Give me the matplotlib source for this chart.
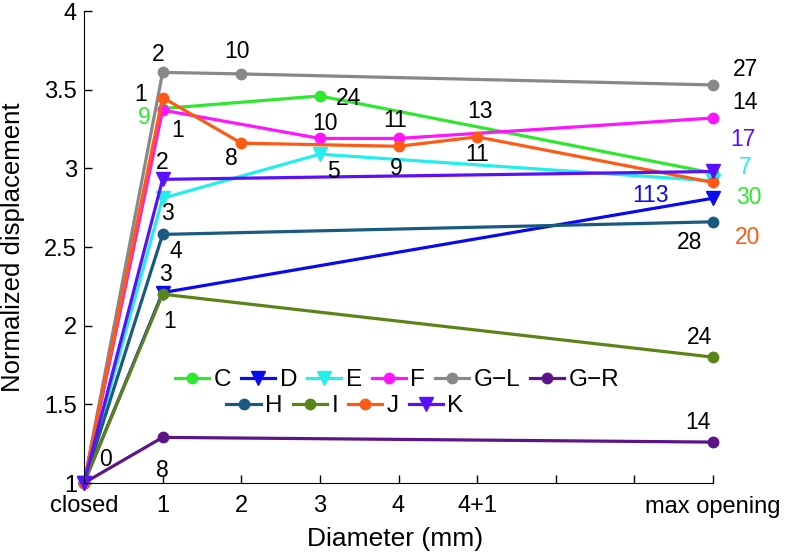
import matplotlib
matplotlib.use("Agg")
import matplotlib.pyplot as plt

plt.rcParams['font.family'] = ['Liberation Sans', 'DejaVu Sans']

# x positions: 0 = closed, 1..5 = 1,2,3,4,4+1, 8 = max opening
xticklabels = ['closed', '1', '2', '3', '4', '4+1', '', '', 'max opening']

names = ['C', 'D', 'E', 'F', 'G\u2212L', 'G\u2212R', 'H', 'I', 'J', 'K']
colors = ['#2ee82e', '#0a0aee', '#22eeee', '#ff14ff', '#888888',
          '#5c1488', '#1a5a80', '#5a8418', '#ff5a14', '#5a10ff']
markers = ['o', 'v', 'v', 'o', 'o', 'o', 'o', 'o', 'o', 'v']

x_C = [0, 1, 3, 8]
y_C = [1, 3.38, 3.46, 2.97]
x_D = [0, 1, 8]
y_D = [1, 2.21, 2.81]
x_E = [0, 1, 3, 8]
y_E = [1, 2.81, 3.09, 2.92]
x_F = [0, 1, 3, 4, 8]
y_F = [1, 3.37, 3.19, 3.19, 3.32]
x_GL = [0, 1, 2, 8]
y_GL = [1, 3.61, 3.60, 3.53]
x_GR = [0, 1, 8]
y_GR = [1, 1.29, 1.26]
x_H = [0, 1, 8]
y_H = [1, 2.58, 2.66]
x_I = [0, 1, 8]
y_I = [1, 2.20, 1.80]
x_J = [0, 1, 2, 4, 5, 8]
y_J = [1, 3.45, 3.16, 3.14, 3.20, 2.91]
x_K = [0, 1, 8]
y_K = [1, 2.93, 2.98]

xs = [x_C, x_D, x_E, x_F, x_GL, x_GR, x_H, x_I, x_J, x_K]
ys = [y_C, y_D, y_E, y_F, y_GL, y_GR, y_H, y_I, y_J, y_K]

# point labels: (series index, point index, text, coloured?)
point_labels = [
    (0, 1, '9', True), (0, 2, '24', False), (0, 3, '30', True),
    (1, 1, '3', False), (1, 2, '113', True),
    (2, 1, '3', False), (2, 2, '5', False), (2, 3, '7', True),
    (3, 1, '1', False), (3, 2, '10', False), (3, 3, '11', False), (3, 4, '14', False),
    (4, 1, '2', False), (4, 2, '10', False), (4, 3, '27', False),
    (5, 0, '0', False), (5, 1, '8', False), (5, 2, '14', False),
    (6, 1, '4', False), (6, 2, '28', False),
    (7, 1, '1', False), (7, 2, '24', False),
    (8, 1, '1', False), (8, 2, '8', False), (8, 3, '9', False),
    (8, 4, '13', False), (8, 4, '11', False), (8, 5, '20', True),
    (9, 1, '2', False), (9, 2, '17', True),
]
# pixel offsets of each label from its point (same order)
label_offsets = [
    (-18, -9), (29, -3), (36, -24),
    (3, 18), (-63, 3),
    (5, -15), (14, -17), (32, 13),
    (15, -20), (5, 15), (-3, 18), (32, 15),
    (-4, 18), (-4, 22), (32, 15),
    (22, 23), (0, -33), (-15, 20),
    (13, -17), (-23, -21),
    (7, -27), (-13, 20),
    (-22, 3), (-10, -15), (-2, -22),
    (3, 25), (0, -18), (35, -55),
    (0, 17), (30, 32),
]

fig = plt.figure(figsize=(7.89, 5.56), dpi=100)
ax = fig.add_axes([84 / 789, 73 / 556, 629 / 789, 472 / 556])

lines = []
for name, c, m, x, y in zip(names, colors, markers, xs, ys):
    ms = 9.5 if m == 'v' else 7.5
    ln, = ax.plot(x, y, color=c, marker=m, markersize=ms, lw=2.3,
                  label=name, clip_on=False)
    lines.append(ln)

for (si, pi, txt, col), (dx, dy) in zip(point_labels, label_offsets):
    ax.annotate(txt, (xs[si][pi], ys[si][pi]), xytext=(dx, dy),
                textcoords='offset pixels', ha='center', va='center',
                fontsize=16.5, color=colors[si] if col else 'black')

ax.set_xlim(0, 8)
ax.set_ylim(1, 4)
ax.set_xticks(range(9))
ax.set_xticklabels(xticklabels)
ax.set_yticks([1, 1.5, 2, 2.5, 3, 3.5, 4])
ax.set_yticklabels(['1', '1.5', '2', '2.5', '3', '3.5', '4'])
ax.tick_params(direction='in', labelsize=17, length=6, width=1)
ax.tick_params(axis='x', pad=9)
ax.tick_params(axis='y', pad=5)
ax.spines['top'].set_visible(False)
ax.spines['right'].set_visible(False)
ax.set_xlabel('Diameter (mm)', fontsize=19)
ax.set_ylabel('Normalized displacement', fontsize=18.5)
ax.xaxis.set_label_coords(0.494, -0.093)
ax.yaxis.set_label_coords(-0.094, 0.5)

leg1 = ax.legend(handles=lines[:6], ncol=6, loc='center',
                 bbox_to_anchor=(0.498, 0.218), frameon=False, fontsize=17.5,
                 handlelength=1.4, handletextpad=0.2, columnspacing=0.4,
                 borderpad=0, borderaxespad=0)
ax.add_artist(leg1)
ax.legend(handles=lines[6:], ncol=4, loc='center',
          bbox_to_anchor=(0.415, 0.163), frameon=False, fontsize=17.5,
          handlelength=1.4, handletextpad=0.2, columnspacing=0.4,
          borderpad=0, borderaxespad=0)

fig.savefig('out.png', dpi=100)
